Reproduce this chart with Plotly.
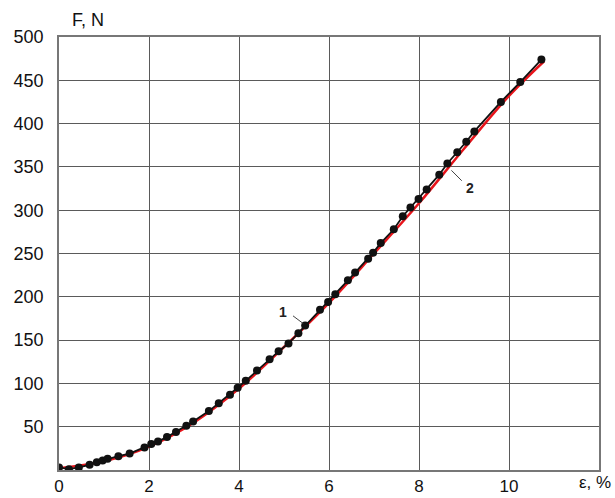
import plotly.graph_objects as go

# Curve 1: measured points (strain %, force N)
strain_1 = [0.0, 0.22, 0.44, 0.68, 0.84, 0.97, 1.08, 1.32, 1.57, 1.9, 2.05, 2.2,
            2.4, 2.6, 2.83, 2.98, 3.33, 3.55, 3.8, 3.97, 4.15, 4.4, 4.68, 4.88,
            5.1, 5.32, 5.47, 5.8, 5.98, 6.14, 6.42, 6.58, 6.87, 6.98, 7.15, 7.44,
            7.64, 7.81, 7.99, 8.17, 8.45, 8.63, 8.85, 9.05, 9.23, 9.82, 10.25, 10.72]
force_1 = [3, 1, 3, 6, 9, 11, 13, 16, 19, 26, 30, 33,
           38, 44, 51, 56, 68, 77, 87, 95, 103, 115, 128, 137,
           146, 158, 167, 185, 194, 203, 219, 228, 244, 251, 262, 278,
           293, 303, 313, 324, 341, 354, 367, 379, 391, 425, 448, 474]

# Curve 2: approximation
strain_2 = [0, 1, 2, 3, 4, 5, 6, 7, 8, 9, 10, 10.78]
force_2 = [2, 10, 27, 55, 94, 142, 193, 250, 308, 371, 432, 472]

x_ticks = [0, 2, 4, 6, 8, 10]
y_ticks = [50, 100, 150, 200, 250, 300, 350, 400, 450, 500]

font = "Liberation Sans, Arial, sans-serif"
grid_col = "#5a5a5a"

fig = go.Figure()
fig.add_trace(go.Scatter(x=strain_2, y=force_2, mode="lines",
                         line=dict(color="#e8141b", width=2.5, shape="spline"),
                         showlegend=False))
fig.add_trace(go.Scatter(x=strain_1, y=force_1, mode="lines+markers",
                         line=dict(color="#111111", width=1.8),
                         marker=dict(color="#111111", size=8),
                         showlegend=False))

# Curve labels with leader lines
fig.add_shape(type="line", x0=5.2, y0=178, x1=5.43, y1=169,
              line=dict(color="#444444", width=1))
fig.add_annotation(x=4.97, y=182, text="<b>1</b>", showarrow=False,
                   font=dict(family=font, size=14, color="#222222"))
fig.add_shape(type="line", x0=8.72, y0=346, x1=8.95, y1=334,
              line=dict(color="#444444", width=1))
fig.add_annotation(x=9.13, y=326, text="<b>2</b>", showarrow=False,
                   font=dict(family=font, size=14, color="#222222"))

# Axis titles
fig.add_annotation(xref="paper", yref="paper", x=(88 - 59) / 540, y=1.0, yshift=17,
                   xanchor="center", yanchor="middle",
                   text="F, N", showarrow=False,
                   font=dict(family=font, size=18, color="#111111"))
fig.add_annotation(xref="paper", yref="paper", x=1.0, y=0.0, xshift=14, yshift=-12,
                   xanchor="right", yanchor="middle", text="ε, %", showarrow=False,
                   font=dict(family=font, size=17, color="#111111"))

fig.update_layout(
    width=615, height=498,
    margin=dict(l=59, r=16, t=37, b=28),
    paper_bgcolor="white", plot_bgcolor="white",
    xaxis=dict(range=[0, 12], tickvals=x_ticks, ticktext=[str(v) for v in x_ticks],
               showgrid=True, gridcolor=grid_col, gridwidth=1.4,
               showline=True, linecolor="#777777", linewidth=1.5, mirror=True,
               zeroline=False, ticks="", ticklabelstandoff=0, automargin=False,
               tickfont=dict(family=font, size=17, color="#111111")),
    yaxis=dict(range=[0, 500], tickvals=y_ticks, ticktext=[str(v) for v in y_ticks],
               showgrid=True, gridcolor=grid_col, gridwidth=1.4,
               showline=True, linecolor="#777777", linewidth=1.5, mirror=True,
               zeroline=False, ticks="", ticklabelstandoff=10, automargin=False,
               tickfont=dict(family=font, size=18, color="#111111")),
)

fig.write_html("out.html")
